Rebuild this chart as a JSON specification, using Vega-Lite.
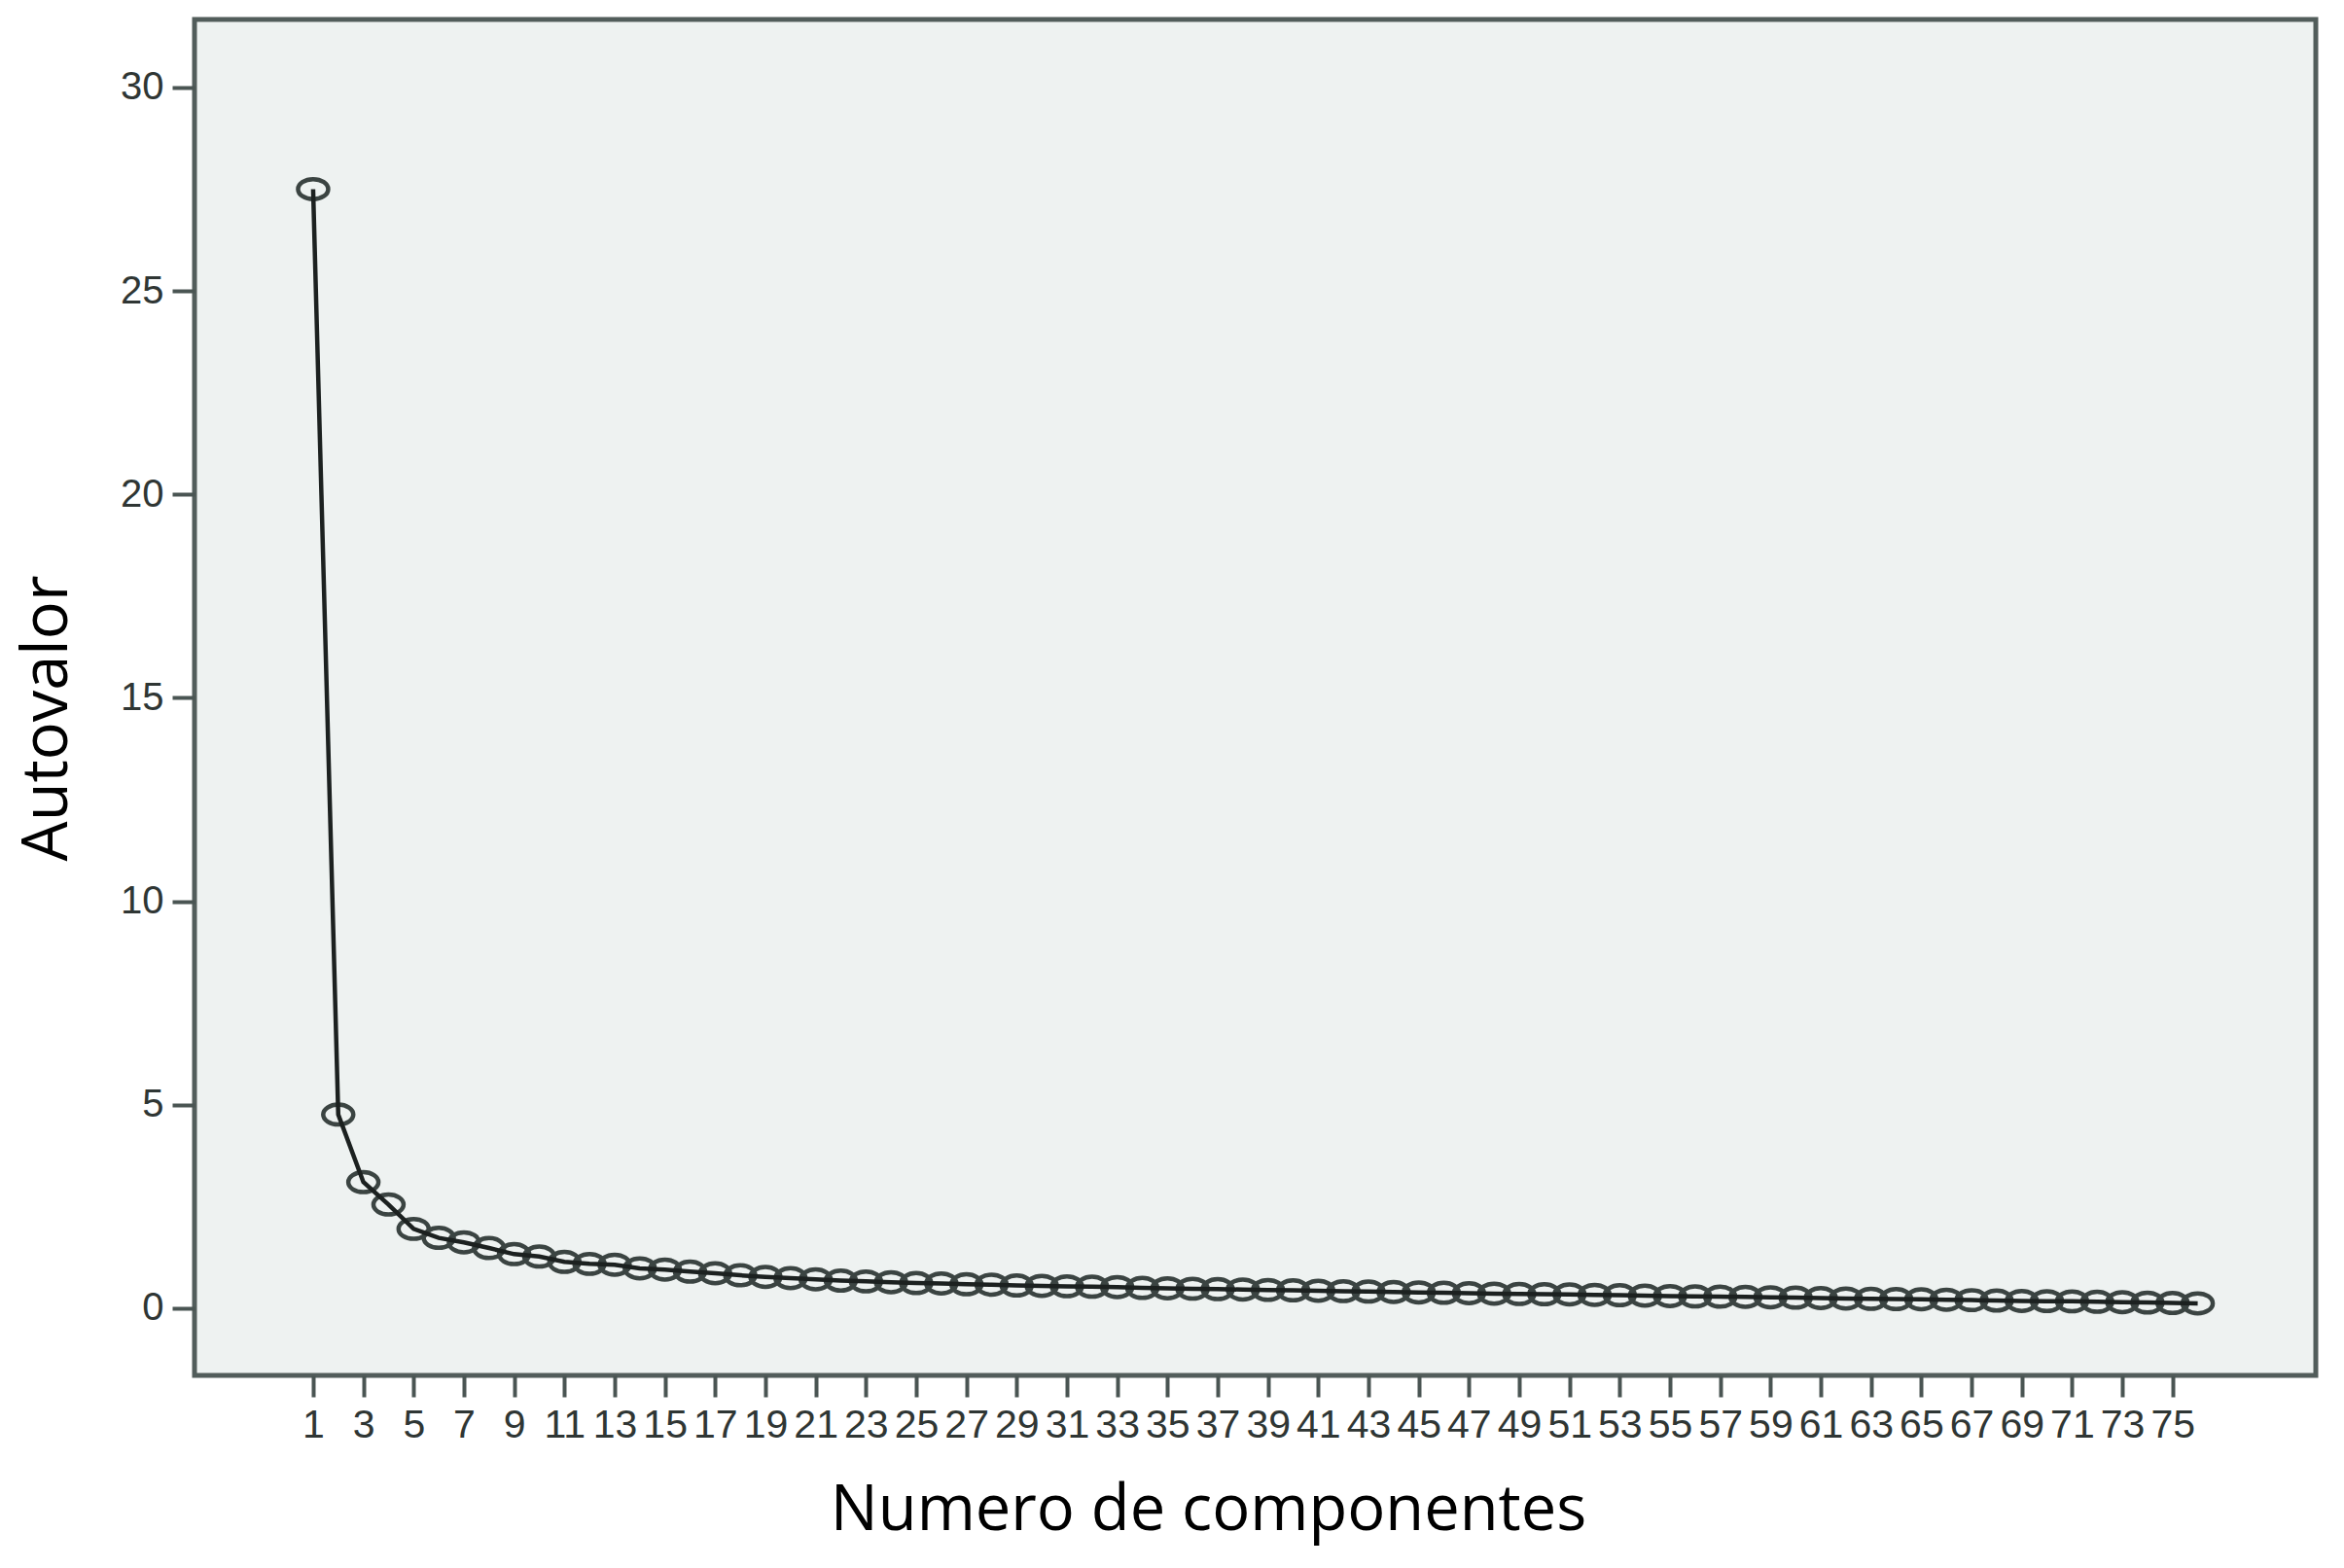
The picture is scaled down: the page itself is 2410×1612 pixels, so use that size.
{
  "$schema": "https://vega.github.io/schema/vega-lite/v6.json",
  "autosize": "none",
  "width": 2181,
  "height": 1394,
  "padding": {"left": 200, "top": 20, "right": 29, "bottom": 178},
  "background": "white",
  "config": {"view": {"fill": "#eef2f1", "stroke": "#525d5b", "strokeWidth": 5}},
  "data": {"values": [
    {"comp": 1, "val": 27.5}, {"comp": 2, "val": 4.76}, {"comp": 3, "val": 3.1}, {"comp": 4, "val": 2.55},
    {"comp": 5, "val": 1.95}, {"comp": 6, "val": 1.73}, {"comp": 7, "val": 1.62}, {"comp": 8, "val": 1.48},
    {"comp": 9, "val": 1.33}, {"comp": 10, "val": 1.27}, {"comp": 11, "val": 1.14}, {"comp": 12, "val": 1.09},
    {"comp": 13, "val": 1.07}, {"comp": 14, "val": 0.98}, {"comp": 15, "val": 0.95}, {"comp": 16, "val": 0.9},
    {"comp": 17, "val": 0.86}, {"comp": 18, "val": 0.81}, {"comp": 19, "val": 0.77}, {"comp": 20, "val": 0.74},
    {"comp": 21, "val": 0.71}, {"comp": 22, "val": 0.68}, {"comp": 23, "val": 0.66}, {"comp": 24, "val": 0.64},
    {"comp": 25, "val": 0.62}, {"comp": 26, "val": 0.61}, {"comp": 27, "val": 0.59}, {"comp": 28, "val": 0.58},
    {"comp": 29, "val": 0.56}, {"comp": 30, "val": 0.55}, {"comp": 31, "val": 0.54}, {"comp": 32, "val": 0.53},
    {"comp": 33, "val": 0.52}, {"comp": 34, "val": 0.5}, {"comp": 35, "val": 0.49}, {"comp": 36, "val": 0.48},
    {"comp": 37, "val": 0.47}, {"comp": 38, "val": 0.46}, {"comp": 39, "val": 0.45}, {"comp": 40, "val": 0.44},
    {"comp": 41, "val": 0.43}, {"comp": 42, "val": 0.42}, {"comp": 43, "val": 0.41}, {"comp": 44, "val": 0.4},
    {"comp": 45, "val": 0.39}, {"comp": 46, "val": 0.38}, {"comp": 47, "val": 0.37}, {"comp": 48, "val": 0.36},
    {"comp": 49, "val": 0.35}, {"comp": 50, "val": 0.345}, {"comp": 51, "val": 0.34}, {"comp": 52, "val": 0.33},
    {"comp": 53, "val": 0.32}, {"comp": 54, "val": 0.31}, {"comp": 55, "val": 0.3}, {"comp": 56, "val": 0.29},
    {"comp": 57, "val": 0.285}, {"comp": 58, "val": 0.28}, {"comp": 59, "val": 0.27}, {"comp": 60, "val": 0.26},
    {"comp": 61, "val": 0.25}, {"comp": 62, "val": 0.24}, {"comp": 63, "val": 0.23}, {"comp": 64, "val": 0.225},
    {"comp": 65, "val": 0.22}, {"comp": 66, "val": 0.21}, {"comp": 67, "val": 0.2}, {"comp": 68, "val": 0.19},
    {"comp": 69, "val": 0.18}, {"comp": 70, "val": 0.175}, {"comp": 71, "val": 0.17}, {"comp": 72, "val": 0.16},
    {"comp": 73, "val": 0.15}, {"comp": 74, "val": 0.14}, {"comp": 75, "val": 0.13}, {"comp": 76, "val": 0.12}
  ]},
  "encoding": {
    "x": {
      "field": "comp", "type": "quantitative",
      "scale": {"domain": [-3.72, 80.7], "nice": false, "zero": false},
      "axis": {
        "values": [1,3,5,7,9,11,13,15,17,19,21,23,25,27,29,31,33,35,37,39,41,43,45,47,49,51,53,55,57,59,61,63,65,67,69,71,73,75],
        "title": "Numero de componentes",
        "domain": false, "grid": false,
        "tickSize": 22, "tickWidth": 4, "tickColor": "#4a5553",
        "labelFont": "Liberation Sans Narrow, Liberation Sans, Arial", "labelFontSize": 41, "labelColor": "#2f3634",
        "labelPadding": 9, "labelOverlap": false, "labelFlush": false,
        "titleFont": "Open Sans", "titleFontSize": 65, "titleFontWeight": "normal", "titleColor": "#000000",
        "titleX": 1042, "titleY": 158, "titleAlign": "center", "titleBaseline": "alphabetic"
      }
    },
    "y": {
      "field": "val", "type": "quantitative",
      "scale": {"domain": [-1.65, 31.67], "nice": false, "zero": false},
      "axis": {
        "values": [0,5,10,15,20,25,30],
        "title": "Autovalor",
        "domain": false, "grid": false,
        "tickSize": 23, "tickWidth": 4, "tickColor": "#4a5553",
        "labelFont": "Liberation Sans", "labelFontSize": 40, "labelColor": "#2f3634",
        "labelPadding": 9,
        "titleFont": "Open Sans", "titleFontSize": 65, "titleFontWeight": "normal", "titleColor": "#000000",
        "titleAngle": -90, "titleX": -132, "titleY": 718, "titleAlign": "center", "titleBaseline": "alphabetic"
      }
    }
  },
  "layer": [
    {"mark": {"type": "point", "shape": "M -1 0 A 1 0.66 0 1 1 1 0 A 1 0.66 0 1 1 -1 0 Z", "size": 960, "filled": false, "stroke": "#3b4442", "strokeWidth": 4.5, "opacity": 1}},
    {"mark": {"type": "line", "stroke": "#1c2120", "strokeWidth": 4.5}}
  ]
}
